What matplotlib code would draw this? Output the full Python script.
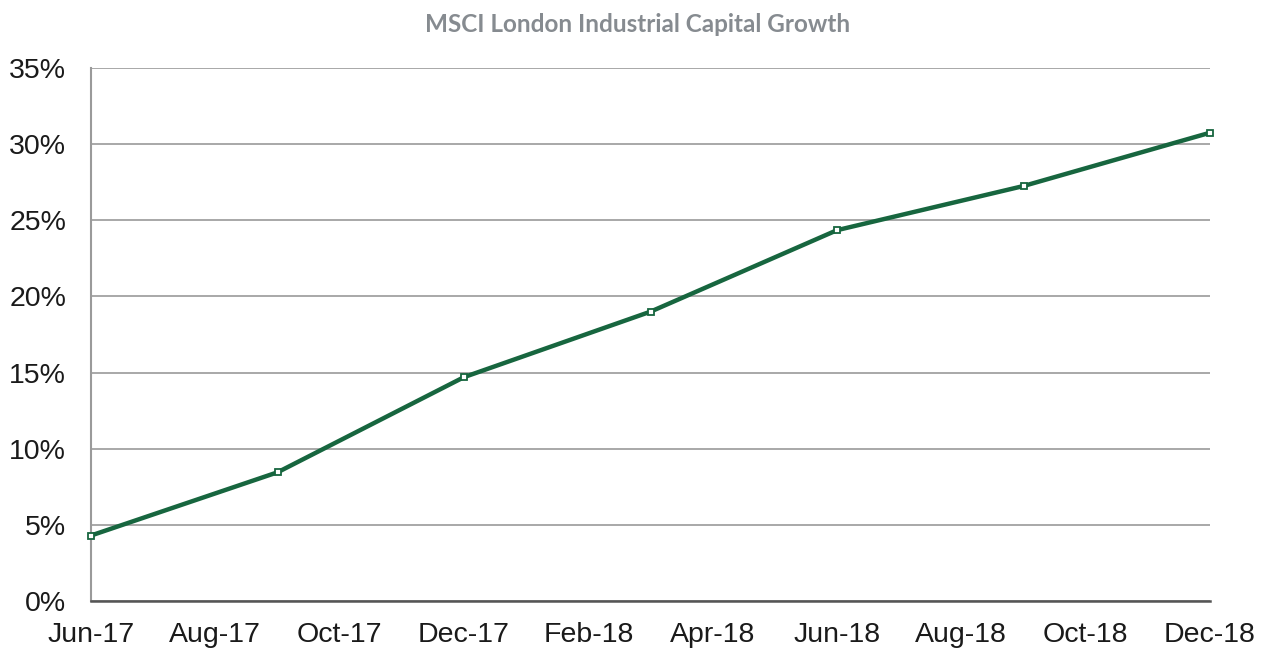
import matplotlib
matplotlib.use("Agg")
import matplotlib.pyplot as plt
from matplotlib.ticker import FuncFormatter

months = ["Jun-17", "Jul-17", "Aug-17", "Sep-17", "Oct-17", "Nov-17", "Dec-17",
          "Jan-18", "Feb-18", "Mar-18", "Apr-18", "May-18", "Jun-18", "Jul-18",
          "Aug-18", "Sep-18", "Oct-18", "Nov-18", "Dec-18"]
point_months = ["Jun-17", "Sep-17", "Dec-17", "Mar-18", "Jun-18", "Sep-18", "Dec-18"]
growth = [4.3, 8.45, 14.7, 19.0, 24.35, 27.25, 30.75]
tick_labels = ["Jun-17", "Aug-17", "Oct-17", "Dec-17", "Feb-18", "Apr-18",
               "Jun-18", "Aug-18", "Oct-18", "Dec-18"]
y_ticks = [0, 5, 10, 15, 20, 25, 30, 35]

plt.rcParams['font.family'] = ['Liberation Sans', 'DejaVu Sans']

W, H = 1269, 653
fig = plt.figure(figsize=(W / 100, H / 100), dpi=100)
ax = fig.add_axes([91 / W, (H - 601) / H, (1210 - 91) / W, (601 - 68) / H])

xs = [months.index(m) for m in point_months]
ax.plot(xs, growth, color="#17663f", lw=3.2, marker="s", markersize=5,
        markerfacecolor="white", markeredgecolor="#17663f", markeredgewidth=1.3,
        zorder=3, clip_on=False)

ax.set_xlim(0, len(months) - 1)
ax.set_ylim(0, 35)
ax.set_yticks(y_ticks)
ax.yaxis.set_major_formatter(FuncFormatter(lambda v, p: f"{int(v)}%"))
ax.set_xticks([months.index(t) for t in tick_labels])
ax.set_xticklabels(tick_labels)
ax.tick_params(axis="both", length=0, labelsize=20.5, colors="#1a1a1a")
ax.tick_params(axis="y", pad=18)
ax.tick_params(axis="x", pad=15)

ax.grid(axis="y", color="#9a9a9a", lw=1.2)
ax.set_axisbelow(True)
for s in ["top", "right"]:
    ax.spines[s].set_visible(False)
ax.spines["left"].set_color("#9a9a9a")
ax.spines["left"].set_linewidth(1.5)
ax.spines["bottom"].set_color("#555555")
ax.spines["bottom"].set_linewidth(1.8)

fig.text(638 / W, 1 - 24 / H, "MSCI London Industrial Capital Growth",
         ha="center", va="center", fontsize=17.5, fontweight="bold",
         color="#868b90", family=["Lato", "DejaVu Sans"])

fig.savefig("out.png", dpi=100)
